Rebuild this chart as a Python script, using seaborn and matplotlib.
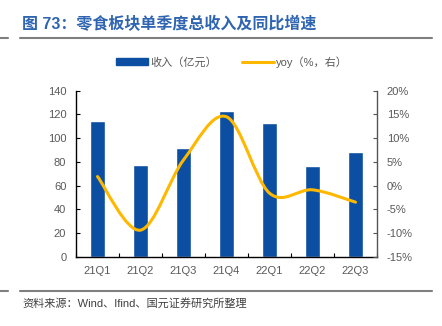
import numpy as np
import pandas as pd
import matplotlib
matplotlib.use("Agg")
import matplotlib.pyplot as plt
import seaborn as sns
from matplotlib.path import Path
from matplotlib.patches import PathPatch, Patch
from matplotlib.lines import Line2D

quarters = ["21Q1", "21Q2", "21Q3", "21Q4", "22Q1", "22Q2", "22Q3"]
revenue = [114.7, 77.1, 91.9, 122.6, 112.7, 76.2, 88.5]
yoy = [1.9, -9.4, 5.4, 14.5, -1.6, -0.9, -3.5]
left_ticks = [0, 20, 40, 60, 80, 100, 120, 140]
right_ticks = [-15, -10, -5, 0, 5, 10, 15, 20]

title = "图 73：零食板块单季度总收入及同比增速"
source = "资料来源：Wind、Ifind、国元证券研究所整理"
bar_label = "收入（亿元）"
line_label = "yoy（%，右）"

BLUE = "#0b4ea2"
YELLOW = "#ffb800"
GRAY = "#595959"

sns.set_theme(style="white")
plt.rcParams['font.family'] = ['Liberation Sans', 'Noto Sans CJK SC', 'DejaVu Sans']

fig = plt.figure(figsize=(4.42, 3.26), dpi=100)
ax = fig.add_axes([76/442, 1-256.7/326, (377-76)/442, 166/326])

df = pd.DataFrame({"q": quarters, "rev": revenue})
sns.barplot(data=df, x="q", y="rev", color=BLUE, width=0.34, saturation=1, ax=ax)
ax.set_xlabel("")
ax.set_ylabel("")
ax.set_ylim(0, 140)
ax.set_yticks(left_ticks)
ax.set_xlim(-0.5, len(quarters) - 0.5)
ax.set_xticks(range(len(quarters)))
ax.set_xticklabels(quarters)

ax2 = ax.twinx()
ax2.set_ylim(-15, 20)
ax2.set_yticks(right_ticks)
ax2.set_yticklabels([f"{t}%" for t in right_ticks])

# smoothed line (Catmull-Rom style bezier like Excel)
xs = np.arange(len(yoy), dtype=float)
ys = np.array(yoy, dtype=float)
verts = [(xs[0], ys[0])]
codes = [Path.MOVETO]
n = len(xs)
for i in range(n - 1):
    p0 = np.array([xs[max(i-1, 0)], ys[max(i-1, 0)]])
    p1 = np.array([xs[i], ys[i]])
    p2 = np.array([xs[i+1], ys[i+1]])
    p3 = np.array([xs[min(i+2, n-1)], ys[min(i+2, n-1)]])
    c1 = p1 + (p2 - p0) / 6.0
    c2 = p2 - (p3 - p1) / 6.0
    verts += [tuple(c1), tuple(c2), tuple(p2)]
    codes += [Path.CURVE4, Path.CURVE4, Path.CURVE4]
ax2.add_patch(PathPatch(Path(verts, codes), facecolor="none", edgecolor=YELLOW, lw=2.2, capstyle="round", zorder=3))
ax2.plot(xs, ys, alpha=0)

for a in (ax, ax2):
    for s in a.spines.values():
        s.set_visible(False)
ax.spines["left"].set_visible(True)
ax.spines["left"].set_color("black")
ax.spines["left"].set_linewidth(1.0)
ax.spines["bottom"].set_visible(True)
ax.spines["bottom"].set_color("black")
ax.spines["bottom"].set_linewidth(1.0)
ax2.spines["right"].set_visible(True)
ax2.spines["right"].set_color("#555555")
ax2.spines["right"].set_linewidth(1.0)

ax.tick_params(axis="y", direction="in", length=3, width=0.8, colors="black", labelcolor=GRAY, labelsize=8, pad=7, left=True)
ax.tick_params(axis="x", length=0, labelcolor=GRAY, labelsize=8, pad=7)
ax2.tick_params(axis="y", direction="in", length=3, width=0.8, colors="#555555", labelcolor=GRAY, labelsize=8, pad=7, right=True)
# minor ticks between categories on x-axis
ax.set_xticks(np.arange(-0.5, len(quarters), 1.0), minor=True)
ax.tick_params(axis="x", which="minor", direction="in", length=3, width=0.8, colors="black", bottom=True)
ax.grid(False); ax2.grid(False)

# legend
handles = [Patch(facecolor=BLUE, edgecolor=BLUE), Line2D([0], [0], color=YELLOW, lw=2.2)]
leg = fig.legend(handles, [bar_label, line_label], loc="center", bbox_to_anchor=(0.525, 1-62/326), ncol=2,
                 frameon=False, fontsize=8, handlelength=2.9, handleheight=0.55, columnspacing=2.2, handletextpad=0.2)
for t in leg.get_texts():
    t.set_color(GRAY)

# title and rules
fig.text(22/442, 1-24/326, title, fontsize=11.5, fontweight="bold", color="#2e64b0", va="center", ha="left",
         family=['Liberation Sans', 'Noto Sans CJK SC'])
fig.add_artist(Line2D([20/442, 432/442], [1-37.5/326]*2, color="#7f7f7f", lw=1.5))
fig.add_artist(Line2D([0, 8/442], [1-37.5/326]*2, color="#7f7f7f", lw=1.5))
fig.add_artist(Line2D([20/442, 432/442], [1-291/326]*2, color="#7f7f7f", lw=1.5))
fig.add_artist(Line2D([0, 8/442], [1-291/326]*2, color="#7f7f7f", lw=1.5))
fig.text(22/442, 1-303/326, source, fontsize=8, color="#404040", va="center", ha="left")

fig.savefig("out.png", dpi=100)
